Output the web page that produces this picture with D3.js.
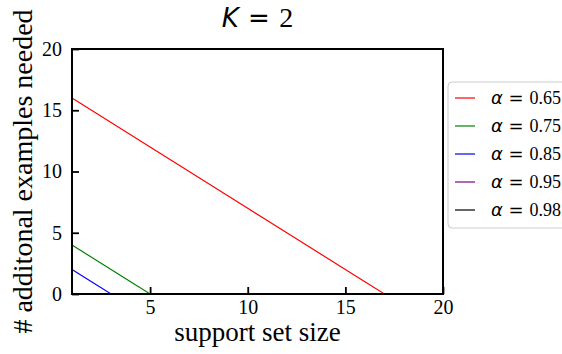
<!DOCTYPE html>
<html>
<head>
<meta charset="utf-8">
<script src="https://cdn.jsdelivr.net/npm/d3@7"></script>
<style>
  body { margin: 0; background: #fff; }
  svg { display: block; }
  .tick text { font-family: 'Liberation Serif', 'Times New Roman', serif !important; }
</style>
</head>
<body>
<figure id="chart" style="margin:0"></figure>
<script>
// support set size 1..20
const supportSize = [1,2,3,4,5,6,7,8,9,10,11,12,13,14,15,16,17,18,19,20];
const alphas = ["0.65", "0.75", "0.85", "0.95", "0.98"];
const colors = ["#ff0000", "#008000", "#0000ff", "#800080", "#000000"];
// # additional examples needed, one list per alpha
const needed065 = [16,15,14,13,12,11,10,9,8,7,6,5,4,3,2,1,0,0,0,0];
const needed075 = [4,3,2,1,0,0,0,0,0,0,0,0,0,0,0,0,0,0,0,0];
const needed085 = [2,1,0,0,0,0,0,0,0,0,0,0,0,0,0,0,0,0,0,0];
const needed095 = [0,0,0,0,0,0,0,0,0,0,0,0,0,0,0,0,0,0,0,0];
const needed098 = [0,0,0,0,0,0,0,0,0,0,0,0,0,0,0,0,0,0,0,0];
const xTicks = [5, 10, 15, 20];
const yTicks = [0, 5, 10, 15, 20];

const series = [needed065, needed075, needed085, needed095, needed098];

const W = 562, H = 354;
const mLeft = 72, mRight = 443, mTop = 49, mBottom = 294;
const serif = "'Liberation Serif', 'Times New Roman', serif";
const sans = "'DejaVu Sans', sans-serif";

const svg = d3.select("#chart").append("svg")
  .attr("width", W).attr("height", H);

const x = d3.scaleLinear().domain([1, 20]).range([mLeft, mRight]);
const y = d3.scaleLinear().domain([0, 20]).range([mBottom, mTop]);

// lines
const line = d3.line()
  .x((d, i) => x(supportSize[i]))
  .y(d => y(d));

series.forEach((vals, k) => {
  svg.append("path")
    .datum(vals)
    .attr("d", line)
    .attr("fill", "none")
    .attr("stroke", colors[k])
    .attr("stroke-width", 1.2);
});

// axes (ticks point inward)
const xAxis = svg.append("g")
  .attr("transform", "translate(0," + mBottom + ")")
  .call(d3.axisBottom(x).tickValues(xTicks).tickSize(-7).tickPadding(6).tickFormat(d3.format("d")));
const yAxis = svg.append("g")
  .attr("transform", "translate(" + mLeft + ",0)")
  .call(d3.axisLeft(y).tickValues(yTicks).tickSize(-7).tickPadding(10).tickFormat(d3.format("d")));

[xAxis, yAxis].forEach(g => {
  g.attr("font-family", serif).attr("font-size", 20);
  g.select(".domain").remove();
  g.selectAll(".tick line").attr("stroke", "#000").attr("stroke-width", 1.8);
  g.selectAll(".tick text")
    .attr("fill", "#000")
    .style("font-family", serif)
    .style("font-size", "20px");
});

// frame
svg.append("rect")
  .attr("x", mLeft).attr("y", mTop)
  .attr("width", mRight - mLeft).attr("height", mBottom - mTop)
  .attr("fill", "none")
  .attr("stroke", "#000")
  .attr("stroke-width", 2);

// title
const title = svg.append("text")
  .attr("x", (mLeft + mRight) / 2)
  .attr("y", 27)
  .attr("text-anchor", "middle")
  .style("font-size", "26px");
title.append("tspan").style("font-family", sans).style("font-style", "italic").text("K");
title.append("tspan").attr("dx", 1).style("font-family", sans).text(" = ");
title.append("tspan").attr("dx", 1).style("font-family", serif).style("font-size", "28px").text("2");

// axis labels
svg.append("text")
  .attr("x", (mLeft + mRight) / 2)
  .attr("y", 341)
  .attr("text-anchor", "middle")
  .style("font-family", serif)
  .style("font-size", "27px")
  .text("support set size");

svg.append("text")
  .attr("transform", "translate(32," + ((mTop + mBottom) / 2) + ") rotate(-90)")
  .attr("text-anchor", "middle")
  .style("font-family", serif)
  .style("font-size", "28px")
  .text("# additonal examples needed");

// legend
const lg = svg.append("g");
lg.append("rect")
  .attr("x", 448).attr("y", 82)
  .attr("width", 130).attr("height", 146)
  .attr("rx", 4)
  .attr("fill", "#fff")
  .attr("stroke", "#cccccc")
  .attr("stroke-width", 1);

alphas.forEach((a, k) => {
  const yy = 98 + k * 28;
  lg.append("line")
    .attr("x1", 455).attr("x2", 475)
    .attr("y1", yy).attr("y2", yy)
    .attr("stroke", colors[k])
    .attr("stroke-width", 1.2);
  const t = lg.append("text")
    .attr("x", 491).attr("y", yy + 6)
    .style("font-size", "18px");
  t.append("tspan").style("font-family", sans).style("font-style", "italic").text("α");
  t.append("tspan").style("font-family", sans).text(" = ");
  t.append("tspan").style("font-family", serif).text(a);
});
</script>
</body>
</html>
